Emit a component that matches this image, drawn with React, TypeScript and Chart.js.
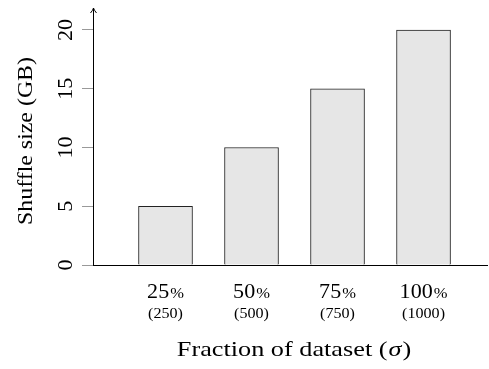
import React, { useEffect, useRef } from "react";
import { Chart, registerables } from "chart.js";

Chart.register(...registerables);

const categories = ["25", "50", "75", "100"];
const subLabels = ["(250)", "(500)", "(750)", "(1000)"];
const shuffleGB = [5, 10, 15, 20];
const yTicks = [0, 5, 10, 15, 20];
const yTitle = "Shuffle size (GB)";
const xTitle = "Fraction of dataset (";
const FONT = '"Liberation Serif", "DejaVu Serif", serif';

function stretchText(ctx: CanvasRenderingContext2D, text: string, x: number, y: number, sx: number) {
  ctx.save();
  ctx.translate(x, y);
  ctx.scale(sx, 1);
  ctx.fillText(text, 0, 0);
  ctx.restore();
}

const textPlugin = {
  id: "customText",
  afterDraw(chart: any) {
    const ctx = chart.ctx as CanvasRenderingContext2D;
    const xs = chart.scales.x;
    const ys = chart.scales.y;
    const area = chart.chartArea;
    ctx.save();
    ctx.fillStyle = "#000";
    // arrow on y axis
    const ax = Math.round(area.left) + 0.5;
    ctx.strokeStyle = "#000";
    ctx.lineWidth = 1;
    ctx.beginPath();
    ctx.moveTo(ax - 3, area.top + 5);
    ctx.quadraticCurveTo(ax - 0.5, area.top + 2, ax, area.top);
    ctx.quadraticCurveTo(ax + 0.5, area.top + 2, ax + 3, area.top + 5);
    ctx.stroke();

    // y tick labels (rotated)
    ctx.font = `21px ${FONT}`;
    ctx.textAlign = "center";
    ctx.textBaseline = "alphabetic";
    yTicks.forEach((v) => {
      const py = ys.getPixelForValue(v);
      ctx.save();
      ctx.translate(72, py);
      ctx.rotate(-Math.PI / 2);
      ctx.scale(1.05, 1);
      ctx.fillText(String(v), 0, 0);
      ctx.restore();
    });
    // y title
    ctx.save();
    ctx.translate(32, 141);
    ctx.rotate(-Math.PI / 2);
    ctx.font = `21px ${FONT}`;
    const yw = ctx.measureText(yTitle).width;
    ctx.scale(168 / yw, 1);
    ctx.fillText(yTitle, 0, 0);
    ctx.restore();

    // x tick labels
    categories.forEach((c, i) => {
      const px = xs.getPixelForValue(i);
      ctx.font = `21px ${FONT}`;
      const w1 = ctx.measureText(c).width * 1.05;
      ctx.font = `15px ${FONT}`;
      const w2 = ctx.measureText("%").width * 1.1;
      const start = px - (w1 + w2 + 1) / 2;
      ctx.textAlign = "left";
      ctx.font = `21px ${FONT}`;
      stretchText(ctx, c, start, 298, 1.05);
      ctx.font = `15px ${FONT}`;
      stretchText(ctx, "%", start + w1 + 1, 298, 1.1);
      ctx.textAlign = "center";
      ctx.font = `14px ${FONT}`;
      stretchText(ctx, subLabels[i], px, 318, 1.15);
    });

    // x title with italic sigma
    const sxs = 1.25;
    ctx.font = `21px ${FONT}`;
    const t1 = ctx.measureText(xTitle).width * sxs;
    ctx.font = `italic 21px ${FONT}`;
    const t2 = ctx.measureText("σ").width * sxs;
    ctx.font = `21px ${FONT}`;
    const t3 = ctx.measureText(")").width * sxs;
    const tw = t1 + t2 + t3 + 2;
    let sx = 294 - tw / 2;
    ctx.textAlign = "left";
    stretchText(ctx, xTitle, sx, 356, sxs);
    sx += t1 + 1;
    ctx.font = `italic 21px ${FONT}`;
    stretchText(ctx, "σ", sx, 356, sxs);
    sx += t2 + 1;
    ctx.font = `21px ${FONT}`;
    stretchText(ctx, ")", sx, 356, sxs);
    ctx.restore();
  },
};

export default function App() {
  const ref = useRef<HTMLCanvasElement>(null);
  useEffect(() => {
    if (!ref.current) return;
    const chart = new Chart(ref.current, {
      type: "bar",
      data: {
        datasets: [
          {
            data: shuffleGB.map((v, i) => ({ x: i, y: v })),
            backgroundColor: "#e6e6e6",
            borderColor: "#222",
            borderWidth: 1,
            barThickness: 54,
          },
        ],
      },
      options: {
        responsive: false,
        animation: false,
        layout: { padding: { top: 8, right: 2, left: 0, bottom: 0 } },
        plugins: { legend: { display: false }, tooltip: { enabled: false } },
        scales: {
          x: {
            type: "linear",
            offset: false,
            min: -0.843,
            max: 3.738,
            grid: { display: false },
            border: { display: true, color: "#000", width: 1 },
            ticks: { display: false },
            afterFit: (s: any) => {
              s.height = 104;
            },
          },
          y: {
            min: 0,
            max: 21.87,
            grid: {
              display: true,
              drawOnChartArea: false,
              drawTicks: true,
              tickLength: 11,
              color: "#999",
            },
            border: { display: true, color: "#000", width: 1 },
            ticks: { display: false, stepSize: 5, includeBounds: false },
            afterFit: (s: any) => {
              s.width = 93;
            },
          },
        },
      },
      plugins: [textPlugin],
    });
    return () => chart.destroy();
  }, []);
  return (
    <div style={{ position: "fixed", left: 0, top: 0, width: 489, height: 369, background: "#fff" }}>
      <canvas ref={ref} width={489} height={369} style={{ display: "block" }} />
    </div>
  );
}
